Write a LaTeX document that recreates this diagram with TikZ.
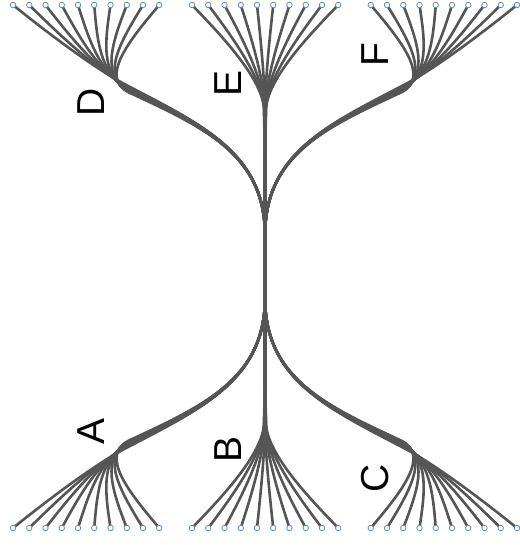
\documentclass[tikz,border=0pt]{standalone}
\usepackage{fontspec}
\setmainfont{Liberation Sans}
\definecolor{edgegray}{HTML}{555555}
\definecolor{leafblue}{HTML}{5B8FC7}
\begin{document}
\begin{tikzpicture}[x=1pt,y=-1pt,
  edge/.style={draw=edgegray,line width=2.6pt},
  hubline/.style={draw=edgegray,line width=3.2pt},
  leaf/.style={circle,draw=leafblue,fill=white,line width=0.8pt,inner sep=0pt,minimum size=5.5pt},
  lbl/.style={font=\fontsize{39}{39}\selectfont,rotate=90,inner sep=0pt,anchor=center}]
\useasboundingbox (0,0) rectangle (519,545);
\foreach \s/\G/\H/\K in {0/d/e/f, 1/a/b/c}{
  \begin{scope}[shift={(0,533*\s)}, yscale=1-2*\s]
    \coordinate (hub\s) at (265,235);
    \coordinate (mE\s) at (265,160);
    \foreach \j in {0,...,9}{
      \pgfmathsetmacro\o{(\j-4.5)*0.6}
      \pgfmathsetmacro\ox{-0.443*\o}
      \pgfmathsetmacro\oy{0.897*\o}
      \pgfmathsetmacro\dx{13+16.25*\j}
      \pgfmathsetmacro\dcx{(\dx+100)/2}
      \coordinate (\G\j) at (\dx,5);
      \coordinate (\K\j) at (530-\dx,5);
      % left group
      \draw[edge] (\G\j) .. controls (\dcx,40) and (100+\ox,75.2+\oy) .. (130+\ox,90+\oy)
        .. controls (205+0.25*\ox,127+0.25*\oy) and (265-0.05*\o,155) .. (hub\s);
      % right group (mirror)
      \draw[edge] (\K\j) .. controls (530-\dcx,40) and (430-\ox,75.2+\oy) .. (400-\ox,90+\oy)
        .. controls (325-0.25*\ox,127+0.25*\oy) and (265+0.05*\o,155) .. (hub\s);
      % middle group
      \pgfmathsetmacro\oe{(\j-4.5)*0.6}
      \pgfmathsetmacro\ex{192+16.25*\j}
      \pgfmathsetmacro\ecx{\ex+0.4*(265-\ex)}
      \coordinate (\H\j) at (\ex,5);
      \draw[edge] (\H\j) .. controls (\ecx,35) and (265+0.5*\oe,80) .. (265+0.4*\oe,110)
        .. controls (265+0.25*\oe,130) and (265,140) .. (mE\s);
    }
    \draw[hubline] (mE\s) -- (hub\s);
    \foreach \j in {0,...,9}{
      \node[leaf] (n\G\j) at (\G\j) {};
      \node[leaf] (n\H\j) at (\H\j) {};
      \node[leaf] (n\K\j) at (\K\j) {};
    }
  \end{scope}
}
\draw[hubline] (hub0) -- (hub1);
% labels
\node[lbl] (lD) at (91,102) {D};
\node[lbl] (lE) at (228,83.5) {E};
\node[lbl] (lF) at (375,55) {F};
\node[lbl] (lA) at (91,431) {A};
\node[lbl] (lB) at (228,449.5) {B};
\node[lbl] (lC) at (375,478) {C};
\end{tikzpicture}
\end{document}
